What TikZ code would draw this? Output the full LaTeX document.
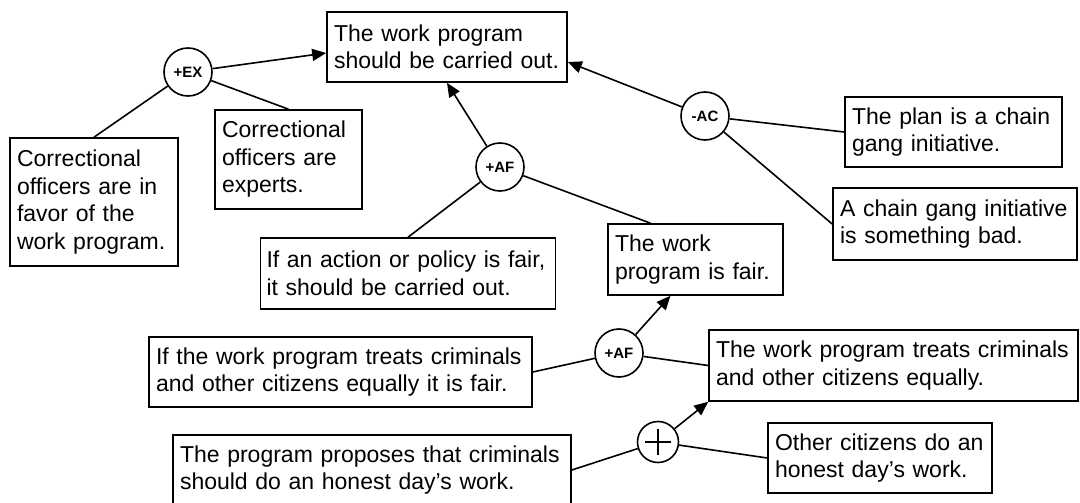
\documentclass[tikz,border=0pt]{standalone}
\usepackage{fontspec}
\setmainfont{Liberation Sans}
\usetikzlibrary{arrows.meta}
\tikzset{
  claim/.style={draw,line width=1.6pt,align=left,inner xsep=7pt,inner ysep=0pt,
    font=\fontsize{23}{27.5}\selectfont},
  scheme/.style={draw,circle,fill=white,line width=1.6pt,minimum size=48pt,inner sep=0pt,
    font=\fontsize{15}{15}\selectfont\bfseries},
  link/.style={line width=1.6pt},
  support/.style={link,-{Triangle[length=14pt,width=12pt]}}
}
\begin{document}
\begin{tikzpicture}[x=1pt,y=-1pt]
\useasboundingbox (0,0) rectangle (1080,503);
% claims
\node[claim,text width=226pt,minimum height=70pt] (carry) at (447,47) {The work program\\should be carried out.};
\node[claim,text width=133pt,minimum height=99pt] (experts) at (288.5,159.5) {Correctional\\officers are\\experts.};
\node[claim,text width=154pt,minimum height=128pt] (favor) at (94,202) {Correctional\\officers are in\\favor of the\\work program.};
\node[claim,text width=203pt,minimum height=70pt] (chain) at (953.5,132) {The plan is a chain\\gang initiative.};
\node[claim,text width=230pt,minimum height=72pt] (bad) at (955,224) {A chain gang initiative\\is something bad.};
\node[claim,text width=161pt,minimum height=71pt] (fair) at (695.5,259.5) {The work\\program is fair.};
\node[claim,inner xsep=6pt,text width=283pt,minimum height=71pt] (policy) at (408,273.5) {If an action or policy is fair,\\it should be carried out.};
\node[claim,text width=369pt,minimum height=70pt] (ifequal) at (340.5,372) {If the work program treats criminals\\and other citizens equally it is fair.};
\node[claim,text width=355pt,minimum height=71pt] (equal) at (893.5,365.5) {The work program treats criminals\\and other citizens equally.};
\node[claim,text width=210pt,minimum height=70pt] (others) at (880,458) {Other citizens do an\\honest day’s work.};
\node[claim,text width=384pt,minimum height=70pt] (proposes) at (372,470) {The program proposes that criminals\\should do an honest day’s work.};
% schemes
\node[scheme] (ex) at (188,72) {+EX};
\node[scheme] (af) at (500,167) {+AF};
\node[scheme] (ac) at (705,116) {-AC};
\node[scheme] (afb) at (619,353) {+AF};
\node[scheme,minimum size=41pt,path picture={
  \draw[line width=2.6pt] ([xshift=-13pt]path picture bounding box.center) -- ([xshift=13pt]path picture bounding box.center);
  \draw[line width=2.6pt] ([yshift=-13pt]path picture bounding box.center) -- ([yshift=13pt]path picture bounding box.center);}] (plus) at (658,442) {};
% connectors
\draw[support] (ex) -- ([yshift=-6pt]carry.west);
\draw[link] (ex) -- (favor.north);
\draw[link] (ex) -- (experts.north);
\draw[support] (af) -- (carry.south);
\draw[link] (af) -- (policy.north);
\draw[link] (af) -- ([xshift=-45pt]fair.north);
\draw[support] (ac) -- ([yshift=-15pt]carry.east);
\draw[link] (ac) -- (chain.west);
\draw[link] (ac) -- (bad.west);
\draw[link] (ifequal.east) -- (afb);
\draw[support] (afb) -- ([xshift=-25pt]fair.south);
\draw[link] (afb) -- (equal.west);
\draw[link] (proposes.east) -- (plus);
\draw[support] (plus) -- (equal.south west);
\draw[link] (plus) -- (others.west);
\end{tikzpicture}
\end{document}
